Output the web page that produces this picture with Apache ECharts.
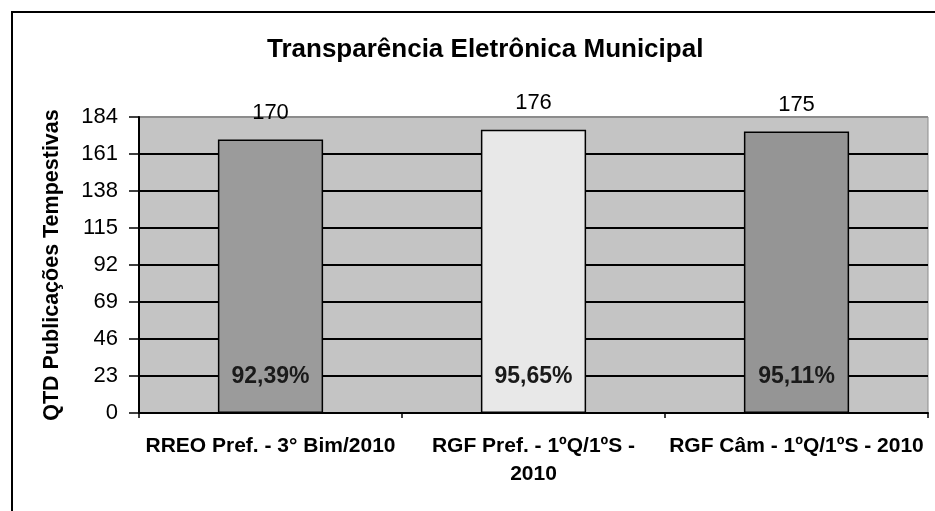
<!DOCTYPE html>
<html>
<head>
<meta charset="utf-8">
<script src="https://cdn.jsdelivr.net/npm/echarts@6/dist/echarts.min.js"></script>
<style>html,body{margin:0;padding:0;background:#fff}#c{width:935px;height:511px}</style>
</head>
<body>
<div id="c"></div>
<script>
const titleText = 'Transparência Eletrônica Municipal';
const yAxisName = 'QTD Publicações Tempestivas';
const categories = ['RREO Pref. - 3° Bim/2010', 'RGF Pref. - 1ºQ/1ºS -\n2010', 'RGF Câm - 1ºQ/1ºS - 2010'];
const values = [170, 176, 175];
const percents = ['92,39%', '95,65%', '95,11%'];
const barColors = ['#9b9b9b', '#e8e8e8', '#959595'];
const yMin = 0, yMax = 184, yStep = 23;

const FONT = "'Liberation Sans', Arial, sans-serif";
const chart = echarts.init(document.getElementById('c'), null, {renderer: 'canvas'});
chart.setOption({
  backgroundColor: '#fff',
  animation: false,
  title: {
    text: titleText,
    left: 262, top: 32,
    textStyle: {fontFamily: FONT, fontSize: 26, fontWeight: 'bold', color: '#000'}
  },
  graphic: [{
    type: 'rect', silent: true, z: -1,
    shape: {x: 12, y: 12, width: 1000, height: 600},
    style: {fill: 'none', stroke: '#000', lineWidth: 2}
  }],
  grid: {
    left: 139, right: 7, top: 117, bottom: 98,
    show: true, backgroundColor: '#c4c4c4', borderColor: '#8c8c8c', borderWidth: 1
  },
  xAxis: {
    type: 'category',
    data: categories,
    axisLine: {lineStyle: {color: '#000', width: 2}},
    axisTick: {show: true, length: 5, lineStyle: {color: '#000', width: 1.5}},
    axisLabel: {fontFamily: FONT, fontSize: 21, fontWeight: 'bold', color: '#000', margin: 19, lineHeight: 28, interval: 0}
  },
  yAxis: {
    type: 'value',
    min: yMin, max: yMax, interval: yStep,
    name: yAxisName,
    nameLocation: 'middle',
    nameGap: 76,
    nameRotate: 90,
    nameTextStyle: {fontFamily: FONT, fontSize: 21.5, fontWeight: 'bold', color: '#000'},
    axisLine: {show: true, lineStyle: {color: '#000', width: 2}},
    axisTick: {show: true, length: 10, lineStyle: {color: '#000', width: 1.5}},
    axisLabel: {fontFamily: FONT, fontSize: 22, color: '#000', margin: 21},
    splitLine: {show: true, lineStyle: {color: ['#000','#000','#000','#000','#000','#000','#000','#000','#8c8c8c'], width: 2}}
  },
  series: [{
    type: 'bar',
    data: values.map((v, i) => ({value: v, itemStyle: {color: barColors[i]}})),
    barWidth: '40%',
    itemStyle: {borderColor: '#000', borderWidth: 1.5},
    label: {show: true, position: 'top', distance: 16, fontFamily: FONT, fontSize: 22, color: '#000'}
  }, {
    type: 'bar',
    data: values,
    barWidth: '40%',
    barGap: '-100%',
    silent: true,
    itemStyle: {color: 'transparent'},
    label: {
      show: true, position: 'insideBottom', distance: 25,
      formatter: p => percents[p.dataIndex],
      fontFamily: FONT, fontSize: 23, fontWeight: 'bold', color: '#1a1a1a'
    }
  }]
});
</script>
</body>
</html>
